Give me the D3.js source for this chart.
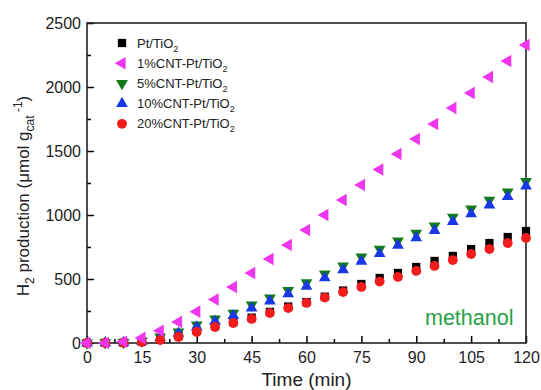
<!DOCTYPE html>
<html>
<head>
<meta charset="utf-8">
<script src="https://cdn.jsdelivr.net/npm/d3@7"></script>
<style>
  body { margin: 0; background: #fff; }
  svg { display: block; font-family: "Liberation Sans", Arial, sans-serif; }
</style>
</head>
<body>
<svg id="chart" width="541" height="390"></svg>
<script>
// time points (min)
const times = d3.range(0, 121, 5)

// H2 production (umol g_cat^-1)
const ptTiO2 = [0, 1, 3, 10, 28, 55, 95, 132, 165, 198, 243, 285, 320, 362, 410, 461, 508, 547, 594, 641, 680, 734, 781, 828, 875]
const cnt1 = [0, 0, 10, 40, 95, 165, 245, 340, 438, 547, 656, 766, 883, 1000, 1117, 1234, 1355, 1477, 1594, 1711, 1836, 1953, 2078, 2203, 2328]
const cnt5 = [0, 2, 5, 16, 47, 86, 141, 188, 234, 297, 352, 410, 472, 539, 602, 672, 734, 797, 859, 914, 984, 1047, 1117, 1180, 1262]
const cnt10 = [0, 1, 4, 12, 40, 75, 125, 170, 215, 272, 328, 383, 443, 508, 572, 638, 698, 762, 822, 878, 948, 1008, 1078, 1143, 1225]
const cnt20 = [0, 0, 2, 8, 23, 47, 86, 125, 156, 188, 234, 273, 313, 355, 398, 438, 480, 516, 563, 602, 648, 695, 734, 781, 820]

const xTicks = [0, 15, 30, 45, 60, 75, 90, 105, 120]
const yTicks = [0, 500, 1000, 1500, 2000, 2500]

const series = [
  { name: 'Pt/TiO', values: ptTiO2, color: '#000000', shape: 'square' },
  { name: '1%CNT-Pt/TiO', values: cnt1, color: '#ee36ee', shape: 'left' },
  { name: '5%CNT-Pt/TiO', values: cnt5, color: '#137a18', shape: 'down' },
  { name: '10%CNT-Pt/TiO', values: cnt10, color: '#1838e6', shape: 'up' },
  { name: '20%CNT-Pt/TiO', values: cnt20, color: '#f21c1c', shape: 'circle' },
]
// draw order: magenta on top at the low end
const drawOrder = [0, 2, 3, 4, 1]

const width = 541
const height = 390
const margin = { top: 23, right: 15, bottom: 47, left: 87 }

const x = d3.scaleLinear().domain([0, 120]).range([margin.left, width - margin.right])
const y = d3.scaleLinear().domain([0, 2500]).range([height - margin.bottom, margin.top])

const svg = d3.select('#chart')

svg.append('rect')
  .attr('width', width)
  .attr('height', height)
  .attr('fill', '#fff')

// minor ticks
svg.append('g')
  .attr('transform', `translate(0,${y(0)})`)
  .call(d3.axisBottom(x).tickValues(d3.range(7.5, 120, 15)).tickSize(-4).tickFormat(''))
  .call((g) => g.select('.domain').remove())
  .call((g) => g.selectAll('line').attr('stroke-width', 1.5))

svg.append('g')
  .attr('transform', `translate(${x(0)},0)`)
  .call(d3.axisLeft(y).tickValues(d3.range(250, 2500, 500)).tickSize(-4).tickFormat(''))
  .call((g) => g.select('.domain').remove())
  .call((g) => g.selectAll('line').attr('stroke-width', 1.5))

// major ticks + labels
svg.append('g')
  .attr('transform', `translate(0,${y(0)})`)
  .call(d3.axisBottom(x).tickValues(xTicks).tickSize(-7).tickPadding(9))
  .call((g) => g.select('.domain').remove())
  .call((g) => g.selectAll('line').attr('stroke-width', 1.5))
  .call((g) => g.selectAll('text').attr('font-size', 16).attr('fill', '#222').attr('font-family', null))

svg.append('g')
  .attr('transform', `translate(${x(0)},0)`)
  .call(d3.axisLeft(y).tickValues(yTicks).tickSize(-7).tickPadding(6).tickFormat(d3.format('d')))
  .call((g) => g.select('.domain').remove())
  .call((g) => g.selectAll('line').attr('stroke-width', 1.5))
  .call((g) => g.selectAll('text').attr('font-size', 16).attr('fill', '#222').attr('font-family', null))

// frame
svg.append('rect')
  .attr('x', x(0))
  .attr('y', y(2500))
  .attr('width', x(120) - x(0))
  .attr('height', y(0) - y(2500))
  .attr('fill', 'none')
  .attr('stroke', '#222')
  .attr('stroke-width', 1.6)

// marker generator
function marker(shape) {
  switch (shape) {
    case 'square':
      return { d: d3.symbol(d3.symbolSquare, 68)(), rot: 0 }
    case 'circle':
      return { d: d3.symbol(d3.symbolCircle, 76)(), rot: 0 }
    case 'left':
      return { d: d3.symbol(d3.symbolTriangle, 68)(), rot: -90 }
    case 'down':
      return { d: d3.symbol(d3.symbolTriangle, 60)(), rot: 180 }
    default:
      return { d: d3.symbol(d3.symbolTriangle, 60)(), rot: 0 }
  }
}

const points = svg.append('g').attr('id', 'points')

drawOrder.forEach((i) => {
  const s = series[i]
  const m = marker(s.shape)
  points.append('g')
    .selectAll('path')
    .data(s.values.map((v, k) => [times[k], v]))
    .join('path')
    .attr('d', m.d)
    .attr('transform', (d) => `translate(${x(d[0])},${y(d[1])}) rotate(${m.rot})`)
    .attr('fill', s.color)
})

// legend
const legend = svg.append('g').attr('id', 'legend').attr('font-size', 13).attr('fill', '#222')
series.forEach((s, i) => {
  const ly = 43 + i * 20.2
  const m = marker(s.shape)
  legend.append('path')
    .attr('d', m.d)
    .attr('transform', `translate(122,${ly}) rotate(${m.rot})`)
    .attr('fill', s.color)
  const t = legend.append('text').attr('x', 137).attr('y', ly + 4.6)
  t.append('tspan').text(s.name)
  t.append('tspan').attr('font-size', 9).attr('dy', 4).text('2')
})

// axis titles
svg.append('text')
  .attr('x', (x(0) + x(120)) / 2)
  .attr('y', 386)
  .attr('text-anchor', 'middle')
  .attr('font-size', 19)
  .attr('fill', '#222')
  .text('Time (min)')

const yt = svg.append('text')
  .attr('transform', `translate(29,196) rotate(-90)`)
  .attr('text-anchor', 'middle')
  .attr('font-size', 17)
  .attr('fill', '#222')
yt.append('tspan').text('H')
yt.append('tspan').attr('font-size', 12).attr('dy', 5).text('2')
yt.append('tspan').attr('dy', -5).text(' production (\u03bcmol g')
yt.append('tspan').attr('font-size', 12).attr('dy', 5).text('cat')
yt.append('tspan').attr('font-size', 12).attr('dy', -12).text(' -1')
yt.append('tspan').attr('dy', 7).text(')')

// annotation
svg.append('text')
  .attr('x', 425)
  .attr('y', 325)
  .attr('font-size', 21.5)
  .attr('fill', '#26a046')
  .text('methanol')
</script>
</body>
</html>
